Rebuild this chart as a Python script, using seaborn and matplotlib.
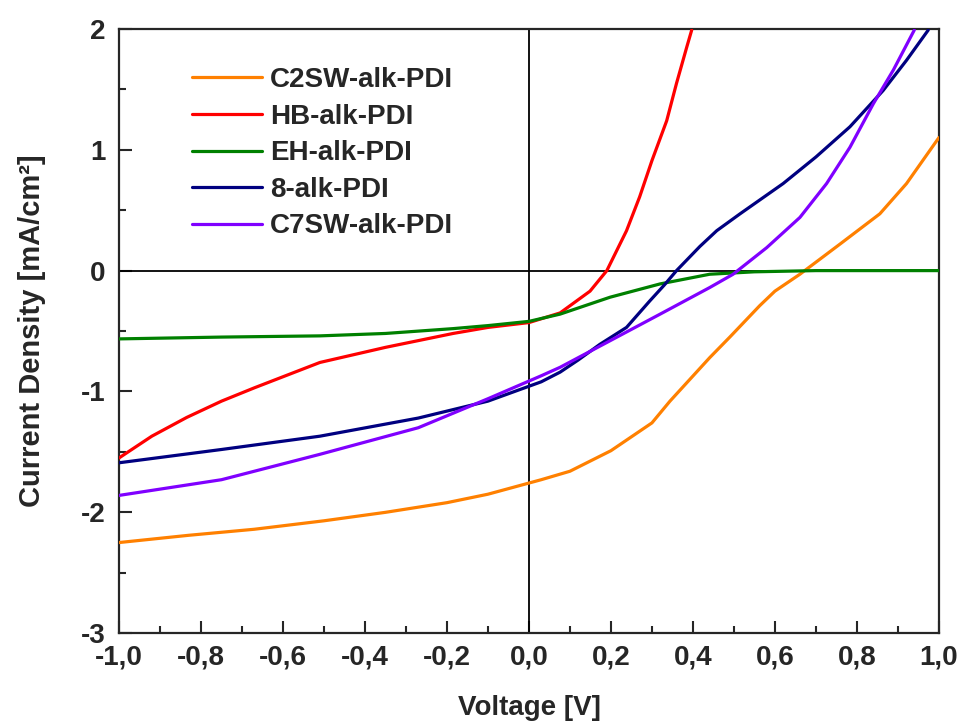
import pandas as pd
import seaborn as sns
import matplotlib
import matplotlib.pyplot as plt
from matplotlib.ticker import MultipleLocator, FuncFormatter
matplotlib.use('Agg')

# values
c2sw_x = [-1.0, -0.83, -0.67, -0.5, -0.35, -0.2, -0.1, 0.03, 0.1, 0.2, 0.3, 0.344, 0.441, 0.49,
          0.563, 0.6, 0.661, 0.759, 0.856, 0.921, 1.0]
c2sw_y = [-2.25, -2.19, -2.14, -2.07, -2.00, -1.92, -1.85, -1.73, -1.66, -1.49, -1.26, -1.08, -0.72, -0.55,
          -0.29, -0.17, -0.03, 0.22, 0.47, 0.72, 1.10]

hb_x = [-1.0, -0.92, -0.835, -0.75, -0.67, -0.51, -0.35, -0.185, -0.1, 0.0, 0.076, 0.149, 0.19,
        0.238, 0.27, 0.30, 0.336, 0.36, 0.385, 0.397]
hb_y = [-1.55, -1.37, -1.215, -1.08, -0.97, -0.76, -0.635, -0.52, -0.47, -0.43, -0.35, -0.17, 0.0,
        0.33, 0.61, 0.91, 1.24, 1.55, 1.85, 1.99]

eh_x = [-1.0, -0.75, -0.51, -0.35, -0.185, -0.1, 0.0, 0.076, 0.198, 0.32, 0.441, 0.55, 0.7, 1.0]
eh_y = [-0.565, -0.55, -0.54, -0.52, -0.48, -0.455, -0.42, -0.36, -0.22, -0.11, -0.03, -0.01, 0.0, 0.0]

alk8_x = [-1.0, -0.75, -0.51, -0.27, -0.1, 0.03, 0.076, 0.12, 0.173, 0.238, 0.295, 0.33, 0.36, 0.417,
          0.458, 0.515, 0.62, 0.70, 0.783, 0.864, 0.921, 0.974]
alk8_y = [-1.59, -1.48, -1.37, -1.22, -1.08, -0.92, -0.84, -0.74, -0.61, -0.47, -0.25, -0.12, 0.0, 0.20,
          0.33, 0.47, 0.72, 0.94, 1.19, 1.49, 1.74, 1.99]

c7sw_x = [-1.0, -0.75, -0.51, -0.27, -0.1, 0.03, 0.076, 0.198, 0.32, 0.441, 0.498, 0.58, 0.661,
          0.726, 0.783, 0.84, 0.889, 0.94]
c7sw_y = [-1.86, -1.73, -1.52, -1.30, -1.06, -0.87, -0.80, -0.58, -0.36, -0.14, -0.03, 0.19, 0.44,
          0.72, 1.02, 1.38, 1.66, 1.99]

names = ['C2SW-alk-PDI', 'HB-alk-PDI', 'EH-alk-PDI', '8-alk-PDI', 'C7SW-alk-PDI']
colors = ['#FF8000', '#FF0000', '#008000', '#000080', '#8000FF']
series = [(c2sw_x, c2sw_y), (hb_x, hb_y), (eh_x, eh_y), (alk8_x, alk8_y), (c7sw_x, c7sw_y)]

rows = []
for name, (xs, ys) in zip(names, series):
    for xv, yv in zip(xs, ys):
        rows.append({'Voltage': xv, 'J': yv, 'sample': name})
df = pd.DataFrame(rows)

sns.set_style('ticks')
plt.rcParams['font.family'] = ['Liberation Sans', 'DejaVu Sans']
plt.rcParams['font.weight'] = 'bold'

fig = plt.figure(figsize=(9.6, 7.22), dpi=100)
ax = fig.add_axes([0.124, 0.123, 0.854, 0.837])

ax.axhline(0, color='black', lw=1.3, zorder=1)
ax.axvline(0, color='black', lw=1.3, zorder=1)

sns.lineplot(data=df, x='Voltage', y='J', hue='sample', hue_order=names,
             palette=dict(zip(names, colors)), sort=False, estimator=None,
             lw=2.3, ax=ax, zorder=3)

ax.set_xlim(-1, 1)
ax.set_ylim(-3, 2)
ax.xaxis.set_major_locator(MultipleLocator(0.2))
ax.xaxis.set_minor_locator(MultipleLocator(0.1))
ax.yaxis.set_major_locator(MultipleLocator(1))
ax.yaxis.set_minor_locator(MultipleLocator(0.5))
ax.xaxis.set_major_formatter(FuncFormatter(lambda v, p: f'{v:.1f}'.replace('.', ',').replace('-0,0', '0,0')))
ax.yaxis.set_major_formatter(FuncFormatter(lambda v, p: f'{v:.0f}'))
ax.tick_params(which='both', direction='in', width=1.5, labelsize=20, top=False, right=False)
ax.tick_params(which='major', length=9)
ax.tick_params(which='minor', length=5)
ax.tick_params(axis='y', pad=10)
ax.tick_params(axis='x', pad=8)
for s in ax.spines.values():
    s.set_linewidth(1.6)
    s.set_visible(True)

ax.set_xlabel('Voltage [V]', fontsize=20, fontweight='bold', labelpad=18)
ax.set_ylabel('Current Density [mA/cm²]', fontsize=21, fontweight='bold', labelpad=25)

leg = ax.legend(loc='upper left', bbox_to_anchor=(0.059, 0.978), frameon=False, fontsize=20,
                handlelength=2.5, handletextpad=0.3, labelspacing=0.38)
for line in leg.get_lines():
    line.set_linewidth(2.3)

fig.savefig('out.png', dpi=100)
